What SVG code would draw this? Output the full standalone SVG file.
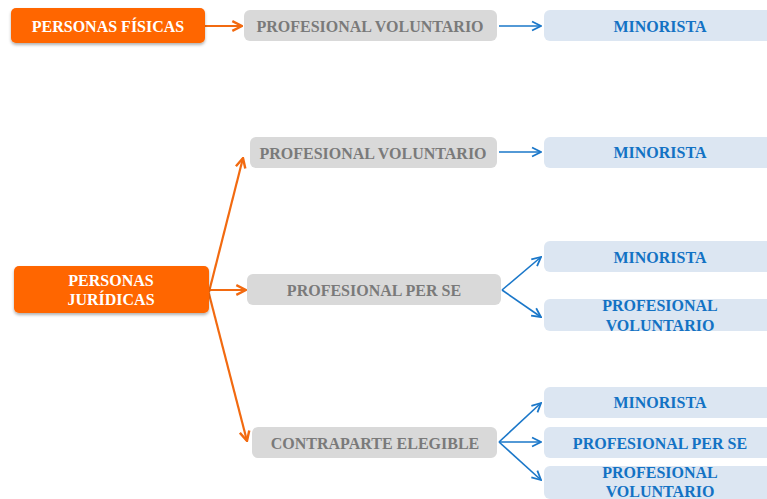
<svg xmlns="http://www.w3.org/2000/svg" width="767" height="499" viewBox="0 0 767 499">
<defs>
<style>
.t{font-family:"Liberation Serif","DejaVu Serif",serif;font-weight:bold;font-size:16px;text-anchor:middle;dominant-baseline:central}
.or{fill:#FF6600;filter:url(#sh)}
.gr{fill:#D9D9D9}
.bl{fill:#DCE6F2}
.wt{fill:#FFFFFF}
.gt{fill:#7A7A7A}
.bt{fill:#1372C4}
.oc{stroke:#F26A10;stroke-width:2.2;fill:none;marker-end:url(#ao)}
.bc{stroke:#1A77C9;stroke-width:1.6;fill:none;marker-end:url(#ab)}
</style>
<filter id="sh" x="-10%" y="-20%" width="120%" height="150%">
<feDropShadow dx="0" dy="2" stdDeviation="1.5" flood-color="#000" flood-opacity="0.3"/>
</filter>
<marker id="ao" viewBox="0 0 10 10" refX="9" refY="5" markerWidth="5.5" markerHeight="5.5" orient="auto" markerUnits="strokeWidth">
<path d="M1,1 L9,5 L1,9" fill="none" stroke="#F26A10" stroke-width="2"/>
</marker>
<marker id="ab" viewBox="0 0 10 10" refX="9" refY="5" markerWidth="7" markerHeight="7" orient="auto" markerUnits="strokeWidth">
<path d="M1,1 L9,5 L1,9" fill="none" stroke="#1A77C9" stroke-width="1.6"/>
</marker>
</defs>
<rect width="767" height="499" fill="#FFFFFF"/>
<g id="connectors">
<line class="oc" x1="205" y1="26" x2="242" y2="26"/>
<line class="bc" x1="499" y1="26" x2="541" y2="26"/>
<line class="oc" x1="209" y1="292" x2="243" y2="158"/>
<line class="oc" x1="209" y1="290" x2="246" y2="290"/>
<line class="oc" x1="208" y1="290" x2="247" y2="441"/>
<line class="bc" x1="499" y1="152" x2="541" y2="152"/>
<line class="bc" x1="502" y1="290" x2="541" y2="257"/>
<line class="bc" x1="502" y1="290" x2="541" y2="317"/>
<line class="bc" x1="499" y1="442" x2="541" y2="403"/>
<line class="bc" x1="499" y1="442" x2="541" y2="442"/>
<line class="bc" x1="499" y1="442" x2="541" y2="480"/>
</g>
<g id="personas-fisicas"><rect class="or" x="11" y="8" width="194" height="35" rx="5"/><text class="t wt" x="108" y="26">PERSONAS FÍSICAS</text></g>
<g id="pf-voluntario"><rect class="gr" x="244" y="10" width="253" height="31" rx="6"/><text class="t gt" x="370" y="26">PROFESIONAL VOLUNTARIO</text></g>
<g id="pf-minorista"><rect class="bl" x="544" y="10" width="240" height="31" rx="6"/><text class="t bt" x="660" y="26">MINORISTA</text></g>
<g id="personas-juridicas"><rect class="or" x="14" y="266" width="195" height="47" rx="5"/><text class="t wt" x="111" y="280">PERSONAS</text><text class="t wt" x="111" y="299">JURÍDICAS</text></g>
<g id="pj-voluntario"><rect class="gr" x="250" y="137" width="247" height="31" rx="6"/><text class="t gt" x="373" y="153">PROFESIONAL VOLUNTARIO</text></g>
<g id="pj-vol-minorista"><rect class="bl" x="544" y="137" width="240" height="31" rx="6"/><text class="t bt" x="660" y="152">MINORISTA</text></g>
<g id="pj-perse"><rect class="gr" x="247" y="274" width="254" height="31" rx="6"/><text class="t gt" x="374" y="290">PROFESIONAL PER SE</text></g>
<g id="pj-perse-minorista"><rect class="bl" x="544" y="241" width="240" height="31" rx="6"/><text class="t bt" x="660" y="257">MINORISTA</text></g>
<g id="pj-perse-voluntario"><rect class="bl" x="544" y="299" width="240" height="32" rx="6"/><text class="t bt" x="660" y="305">PROFESIONAL</text><text class="t bt" x="660" y="325">VOLUNTARIO</text></g>
<g id="pj-contraparte"><rect class="gr" x="252" y="427" width="245" height="31" rx="6"/><text class="t gt" x="375" y="443">CONTRAPARTE ELEGIBLE</text></g>
<g id="ce-minorista"><rect class="bl" x="544" y="387" width="240" height="31" rx="6"/><text class="t bt" x="660" y="402">MINORISTA</text></g>
<g id="ce-perse"><rect class="bl" x="544" y="427" width="240" height="31" rx="6"/><text class="t bt" x="660" y="443">PROFESIONAL PER SE</text></g>
<g id="ce-voluntario"><rect class="bl" x="544" y="466" width="240" height="33" rx="6"/><text class="t bt" x="660" y="472">PROFESIONAL</text><text class="t bt" x="660" y="491">VOLUNTARIO</text></g>
</svg>
